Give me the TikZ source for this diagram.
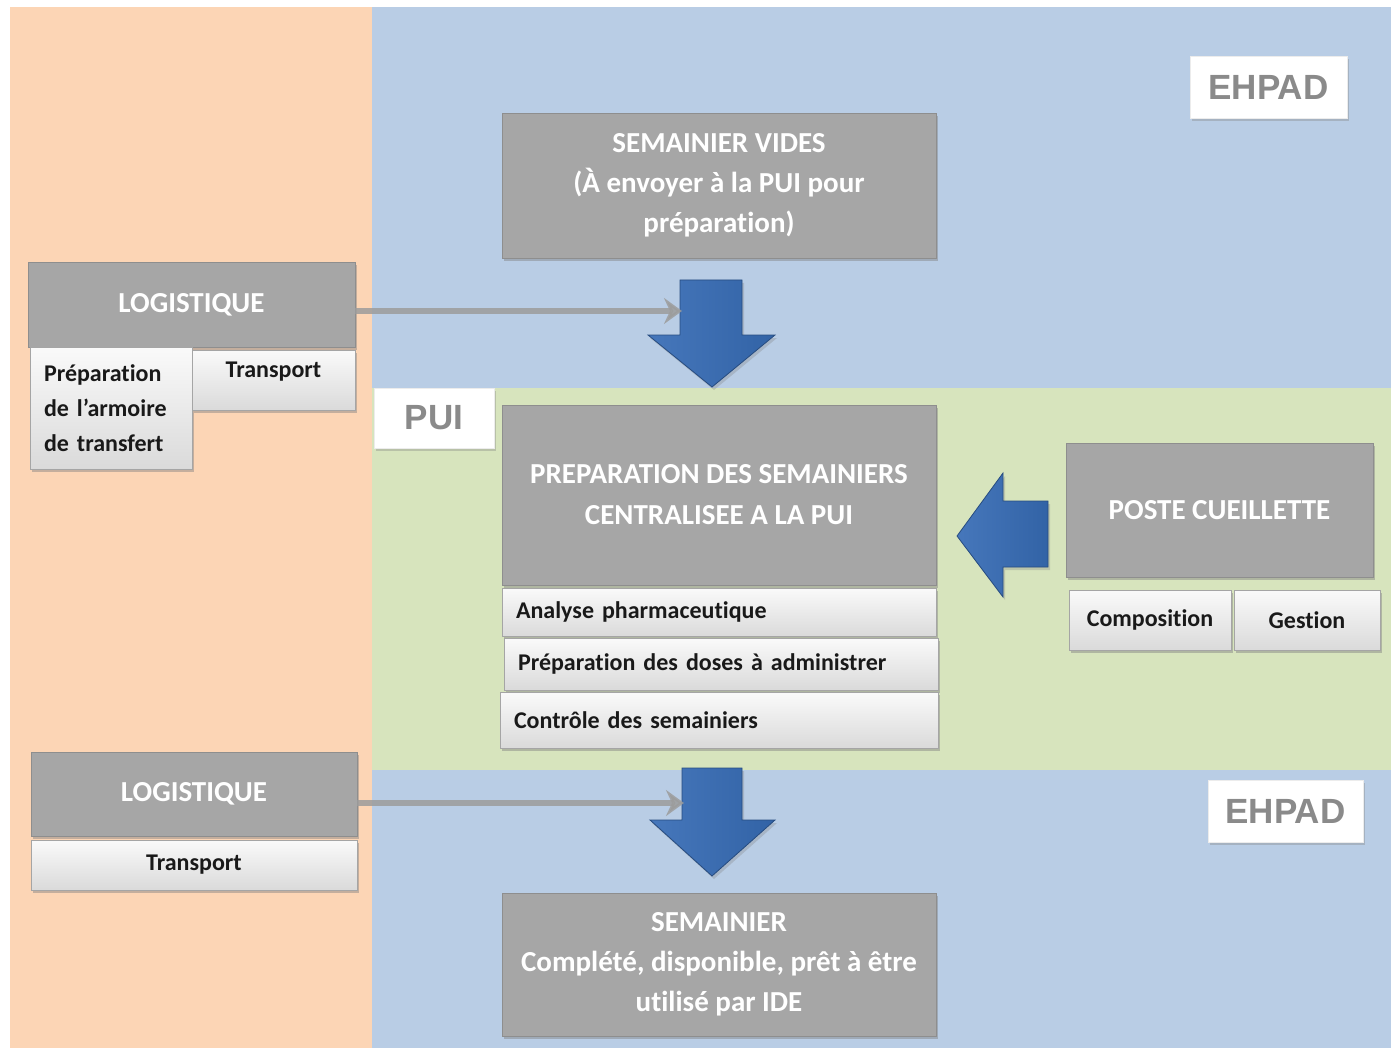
\documentclass[tikz,border=0pt]{standalone}
\usepackage{fontspec}
\setmainfont[Ligatures=NoCommon]{Carlito}
\newfontfamily\lblfont{Liberation Sans}
\usetikzlibrary{shadows,arrows.meta}
\definecolor{orangebg}{HTML}{FCD5B5}
\definecolor{bluebg}{HTML}{B9CDE5}
\definecolor{greenbg}{HTML}{D7E4BD}
\definecolor{boxgray}{HTML}{A6A6A6}
\definecolor{boxedge}{HTML}{8E8E8E}
\definecolor{subtop}{HTML}{FAFAFA}
\definecolor{subbot}{HTML}{DADADA}
\definecolor{blueA}{HTML}{4677BB}
\definecolor{blueB}{HTML}{3263A6}
\definecolor{blueedge}{HTML}{274C80}
\definecolor{linkgray}{HTML}{9C9C9C}
\definecolor{lbltext}{HTML}{8A8A8A}
\begin{document}
\begin{tikzpicture}[x=1pt,y=-1pt,
  graybox/.style={draw=boxedge, line width=0.8pt, fill=boxgray, text=white,
    font=\fontsize{29}{40}\selectfont\bfseries, align=center, inner sep=0pt,
    drop shadow={shadow xshift=2pt,shadow yshift=-3pt,opacity=0.45}},
  subbox/.style={draw=boxedge!80, line width=0.6pt, top color=subtop, bottom color=subbot,
    text=black!90, font=\fontsize{24}{35}\selectfont\bfseries, inner sep=0pt,
    drop shadow={shadow xshift=2pt,shadow yshift=-3pt,opacity=0.45}},
  lblbox/.style={fill=white, draw=white!85!gray, line width=0.5pt, text=lbltext,
    font=\lblfont\fontsize{35}{38}\selectfont\bfseries, inner sep=0pt,
    drop shadow={shadow xshift=2pt,shadow yshift=-3pt,opacity=0.35}},
  bluearrow/.style={left color=blueA, right color=blueB, draw=blueedge, line width=0.8pt},
  link/.style={draw=linkgray, line width=6pt, opacity=0.85,
    -{Stealth[length=18pt,width=26pt,inset=6pt]}}
]
\useasboundingbox (0,0) rectangle (1391,1048);
\fill[white] (0,0) rectangle (1391,1048);
% background bands
\fill[orangebg] (10,7) rectangle (372,1048);
\fill[bluebg] (372,7) rectangle (1391,388);
\fill[greenbg] (372,388) rectangle (1391,770);
\fill[bluebg] (372,770) rectangle (1391,1048);

% labels
\node[lblbox, minimum width=157pt, minimum height=62pt] (ehpad1) at (1268.5,87) {EHPAD};
\node[lblbox, minimum width=120pt, minimum height=60pt] (pui) at (434,418) {PUI};
\node[lblbox, minimum width=155pt, minimum height=62pt] (ehpad2) at (1285.5,811) {EHPAD};

% main boxes
\node[graybox, minimum width=434pt, minimum height=145pt] (vides) at (719,185.5)
  {SEMAINIER VIDES\\(À envoyer à la PUI pour\\préparation)};
\node[graybox, minimum width=327pt, minimum height=85pt] (log1) at (191.5,304.5) {LOGISTIQUE};
\node[subbox, minimum width=162pt, minimum height=122pt, text width=134pt, align=left] (arm) at (111,408)
  {Préparation\\de l’armoire\\de transfert};
\node[subbox, minimum width=163pt, minimum height=60pt,
  label={[font=\fontsize{24}{28}\selectfont\bfseries, text=black!90, yshift=8pt]center:Transport}] (tr1) at (273.5,380) {};

\node[graybox, minimum width=434pt, minimum height=180pt, font=\fontsize{29}{41}\selectfont\bfseries] (prep) at (719,495)
  {PREPARATION DES SEMAINIERS\\CENTRALISEE A LA PUI};
\node[subbox, minimum width=434pt, minimum height=48pt, text width=406pt, align=left] (ana) at (719,612)
  {Analyse pharmaceutique};
\node[subbox, minimum width=434pt, minimum height=52pt, text width=406pt, align=left] (dos) at (721,664)
  {Préparation des doses à administrer};
\node[subbox, minimum width=438pt, minimum height=56pt, text width=410pt, align=left] (ctl) at (719,720)
  {Contrôle des semainiers};

\node[graybox, minimum width=307pt, minimum height=134pt] (poste) at (1219.5,510) {POSTE CUEILLETTE};
\node[subbox, minimum width=162pt, minimum height=60pt] (comp) at (1150,620) {Composition};
\node[subbox, minimum width=146pt, minimum height=60pt] (gest) at (1307,620) {Gestion};

\node[graybox, minimum width=326pt, minimum height=84pt] (log2) at (194,794) {LOGISTIQUE};
\node[subbox, minimum width=326pt, minimum height=50pt] (tr2) at (194,865) {Transport};

\node[graybox, minimum width=434pt, minimum height=143pt] (sem) at (719,964.5)
  {SEMAINIER\\Complété, disponible, prêt à être\\utilisé par IDE};

% block arrows
\path[bluearrow, drop shadow={shadow xshift=2pt,shadow yshift=-3pt,opacity=0.3}]
  (680,280) -- (742,280) -- (742,335) -- (775,335) -- (712,387) -- (648,335) -- (680,335) -- cycle;
\path[bluearrow, drop shadow={shadow xshift=2pt,shadow yshift=-3pt,opacity=0.3}]
  (682,768) -- (742,768) -- (742,820) -- (775,820) -- (712,876) -- (650,820) -- (682,820) -- cycle;
\path[bluearrow, drop shadow={shadow xshift=2pt,shadow yshift=-3pt,opacity=0.3}]
  (1048,501) -- (1048,567) -- (1003,567) -- (1003,597) -- (957,536) -- (1003,473) -- (1003,501) -- cycle;
\coordinate (in1) at (682,311);
\coordinate (in2) at (684,803);

% connectors
\draw[link] (in1 -| log1.east) -- (in1);
\draw[link] (in2 -| log2.east) -- (in2);
\end{tikzpicture}
\end{document}
